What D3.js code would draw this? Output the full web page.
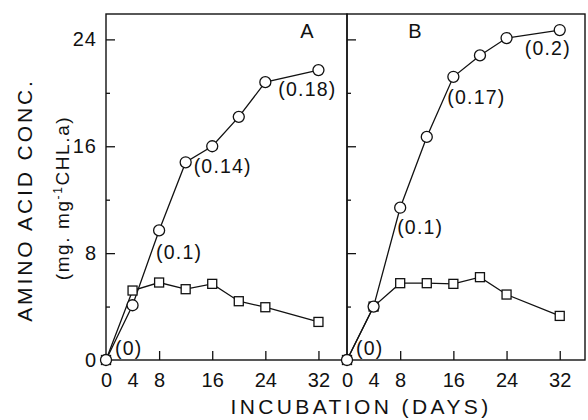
<!DOCTYPE html>
<html>
<head>
<meta charset="utf-8">
<script src="https://cdn.jsdelivr.net/npm/d3@7"></script>
<style>
  body { margin: 0; background: #fff; }
  svg { display: block; }
  text { fill: #111; font-family: "Liberation Sans", Arial, sans-serif; }
</style>
</head>
<body>
<div class="chart-wrapper"></div>
<script>
// incubation days (same for every series)
const days = [0, 4, 8, 12, 16, 20, 24, 32];

// panel A
const circlesA = [0, 4.1, 9.7, 14.8, 16.0, 18.2, 20.8, 21.7];
const squaresA = [0, 5.2, 5.8, 5.3, 5.7, 4.4, 3.95, 2.85];
// panel B
const circlesB = [0, 4.0, 11.4, 16.7, 21.2, 22.8, 24.1, 24.7];
const squaresB = [0, 4.0, 5.75, 5.75, 5.7, 6.2, 4.9, 3.3];

// point annotations: [day, text] on the circle series
const notesA = [[0, "(0)"], [8, "(0.1)"], [12, "(0.14)"], [24, "(0.18)"]];
const notesB = [[0, "(0)"], [8, "(0.1)"], [16, "(0.17)"], [32, "(0.2)"]];

const yMajor = [8, 16, 24];
const yMinor = [4, 12, 20];
const yLabels = [0, 8, 16, 24];
const xMajor = [8, 16, 24, 32];
const xLabels = [0, 4, 8, 16, 24, 32];

// label offsets (px) from their point, per panel
const noteOffsetA = { 0: [9, -5], 8: [-3, 29], 12: [8, 11], 24: [13, 14] };
const noteOffsetB = { 0: [9, -5], 8: [-3, 26], 16: [-6, 27], 32: [-35, 25] };

const width = 588, height = 420;
const plotTop = 14, plotBottom = 360;

const svg = d3.select(".chart-wrapper").append("svg")
    .attr("width", width)
    .attr("height", height);

const y = d3.scaleLinear().domain([0, 25.9]).range([plotBottom, plotTop]);

const panels = [
    { x: d3.scaleLinear().domain([0, 36.3]).range([106, 347]), circles: circlesA, squares: squaresA,
      notes: notesA, offs: noteOffsetA, letter: "A", letterX: 307, first: true },
    { x: d3.scaleLinear().domain([0, 35.8]).range([347, 585]), circles: circlesB, squares: squaresB,
      notes: notesB, offs: noteOffsetB, letter: "B", letterX: 415, first: false }
];

panels.forEach(p => {
    const g = svg.append("g");
    const [x0, x1] = p.x.range();

    // frame
    g.append("rect")
        .attr("x", x0).attr("y", plotTop)
        .attr("width", x1 - x0).attr("height", plotBottom - plotTop)
        .attr("fill", "none").attr("stroke", "#111").attr("stroke-width", 1.4);

    // y ticks pointing inward
    g.append("g").attr("transform", `translate(${x0},0)`)
        .call(d3.axisRight(y).tickValues(yMajor).tickSize(9).tickFormat(""))
        .call(a => a.select(".domain").remove());
    g.append("g").attr("transform", `translate(${x0},0)`)
        .call(d3.axisRight(y).tickValues(yMinor).tickSize(4).tickFormat(""))
        .call(a => a.select(".domain").remove());

    // x ticks pointing up
    g.append("g").attr("transform", `translate(0,${plotBottom})`)
        .call(d3.axisTop(p.x).tickValues(xMajor).tickSize(9).tickFormat(""))
        .call(a => a.select(".domain").remove());

    // x tick labels
    g.append("g").attr("transform", `translate(0,${plotBottom})`)
        .call(d3.axisBottom(p.x).tickValues(xLabels).tickSize(0).tickPadding(13))
        .call(a => a.select(".domain").remove())
        .call(a => a.selectAll("text").attr("font-size", 20).attr("font-family", "Liberation Sans, Arial"));

    if (p.first) {
        g.append("g").attr("transform", `translate(${x0},0)`)
            .call(d3.axisLeft(y).tickValues(yLabels).tickSize(0).tickPadding(9))
            .call(a => a.select(".domain").remove())
            .call(a => a.selectAll("text").attr("font-size", 20).attr("font-family", "Liberation Sans, Arial")
                .attr("letter-spacing", 1));
    }
    g.selectAll(".tick line").attr("stroke", "#111").attr("stroke-width", 1.3);

    // lines
    const line = d3.line().x((d, i) => p.x(days[i])).y(d => y(d));
    [p.squares, p.circles].forEach(series => {
        g.append("path").datum(series)
            .attr("d", line)
            .attr("fill", "none").attr("stroke", "#111").attr("stroke-width", 1.3);
    });

    // markers
    g.selectAll("rect.sq").data(p.squares).enter().append("rect")
        .attr("class", "sq")
        .attr("x", (d, i) => p.x(days[i]) - 4.5)
        .attr("y", d => y(d) - 4.5)
        .attr("width", 9).attr("height", 9)
        .attr("fill", "#fff").attr("stroke", "#111").attr("stroke-width", 1.3);
    g.selectAll("circle.ci").data(p.circles).enter().append("circle")
        .attr("class", "ci")
        .attr("cx", (d, i) => p.x(days[i]))
        .attr("cy", d => y(d))
        .attr("r", 5.5)
        .attr("fill", "#fff").attr("stroke", "#111").attr("stroke-width", 1.3);

    // annotations
    g.selectAll("text.note").data(p.notes).enter().append("text")
        .attr("class", "note")
        .attr("x", d => p.x(d[0]) + p.offs[d[0]][0])
        .attr("y", d => y(p.circles[days.indexOf(d[0])]) + p.offs[d[0]][1])
        .attr("font-size", 19.5)
        .attr("letter-spacing", 1.2)
        .text(d => d[1]);

    // panel letter
    g.append("text")
        .attr("x", p.letterX).attr("y", 38)
        .attr("text-anchor", "middle")
        .attr("font-size", 20)
        .text(p.letter);
});

// axis titles
svg.append("text")
    .attr("x", 361).attr("y", 414)
    .attr("text-anchor", "middle")
    .attr("font-size", 21)
    .attr("letter-spacing", 3.4)
    .text("INCUBATION (DAYS)");

svg.append("text")
    .attr("transform", "translate(32,200) rotate(-90)")
    .attr("text-anchor", "middle")
    .attr("font-size", 21)
    .attr("letter-spacing", 2.9)
    .text("AMINO ACID CONC.");

const unit = svg.append("text")
    .attr("transform", "translate(69,198) rotate(-90)")
    .attr("text-anchor", "middle")
    .attr("font-size", 19)
    .attr("letter-spacing", 1.6);
unit.append("tspan").text("(mg. mg");
unit.append("tspan").attr("dy", -7).attr("font-size", 12).text("-1");
unit.append("tspan").attr("dy", 7).text("CHL.a)");
</script>
</body>
</html>
